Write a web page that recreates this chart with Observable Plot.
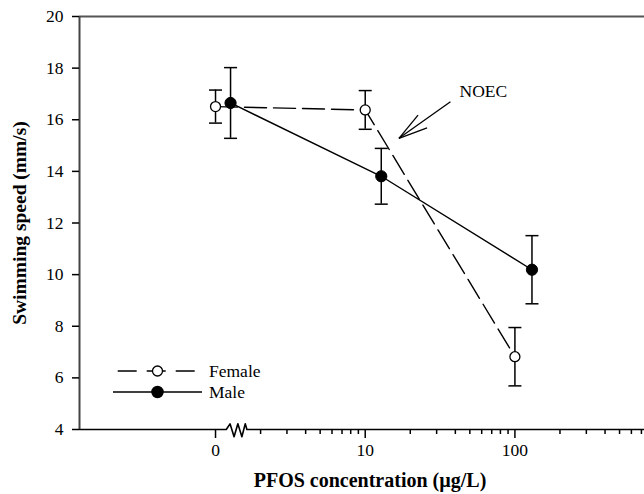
<!DOCTYPE html>
<html><head><meta charset="utf-8">
<script src="https://cdn.jsdelivr.net/npm/d3@7"></script>
<script src="https://cdn.jsdelivr.net/npm/@observablehq/plot@0.6"></script>
<style>body{margin:0;background:#fff}#chart{position:relative;width:644px;height:494px}</style>
</head><body><div id="chart"></div>
<script>
// ---- data ----
const femaleX = [1, 10, 100];          // plotted positions ("0" sits at the 1 position of the log axis)
const femaleMean = [16.51, 16.38, 6.82];
const femaleErr = [0.64, 0.75, 1.13];
const maleX = [1.26, 12.8, 130];
const maleMean = [16.65, 13.81, 10.19];
const maleErr = [1.37, 1.08, 1.32];
const majorTicks = [1, 10, 100];
const majorLabels = ["0", "10", "100"];
const minorTicks = [2,3,4,5,6,7,8,9,20,30,40,50,60,70,80,90,200,300,400,500,600,700];
const yTicks = [4,6,8,10,12,14,16,18,20];
const seriesNames = ["Female", "Male"];
const xTitle = "PFOS concentration (µg/L)";
const yTitle = "Swimming speed (mm/s)";
const noecLabel = "NOEC";
const noecTip = [16.8, 15.28];
const noecTail = [37.1, 16.7];
const noecText = [42.7, 17.1];
// axis break (zigzag) on the x axis
const breakX = [1.18, 1.25, 1.33, 1.41, 1.5, 1.58, 1.62];
const breakY = [4, 4.22, 3.72, 4.22, 3.72, 4.22, 4];

const xDomain = [0.1234, 734];
const yDomain = [4, 20];
const W = 644, H = 494, mL = 79, mR = 0, mT = 16, mB = 65;

const rows = [];
femaleX.forEach((x, i) => rows.push({sex: "Female", x, m: femaleMean[i], e: femaleErr[i]}));
maleX.forEach((x, i) => rows.push({sex: "Male", x, m: maleMean[i], e: maleErr[i]}));
const female = rows.filter(d => d.sex === "Female");
const male = rows.filter(d => d.sex === "Male");
const caps = rows.flatMap(d => [{x: d.x, y: d.m + d.e}, {x: d.x, y: d.m - d.e}]);
const axisPts = [{x: xDomain[0], y: 4}, ...breakX.map((x, i) => ({x, y: breakY[i]})), {x: xDomain[1], y: 4}];

const capSymbol = {draw(ctx, size) { const r = Math.sqrt(size / Math.PI); ctx.moveTo(-r, 0); ctx.lineTo(r, 0); }};

// scales used to build the open arrowhead of the annotation
const sx = Plot.scale({x: {type: "log", domain: xDomain, range: [mL, W - mR]}});
const sy = Plot.scale({y: {domain: yDomain, range: [H - mB, mT]}});
const tpx = sx.apply(noecTip[0]), tpy = sy.apply(noecTip[1]);
const tlx = sx.apply(noecTail[0]), tly = sy.apply(noecTail[1]);
const ang = Math.atan2(tly - tpy, tlx - tpx);
const barbs = [-1, 1].map(s => {
  const a = ang + s * 15 * Math.PI / 180;
  return {x1: noecTip[0], y1: noecTip[1], x2: sx.invert(tpx + 30 * Math.cos(a)), y2: sy.invert(tpy + 30 * Math.sin(a))};
});
const arrowLinks = [{x1: noecTail[0], y1: noecTail[1], x2: noecTip[0], y2: noecTip[1]}, ...barbs];

const font = "'Liberation Serif', 'Times New Roman', serif";
const chart = Plot.plot({
  width: W, height: H, marginLeft: mL, marginRight: mR, marginTop: mT, marginBottom: mB,
  style: {fontFamily: font, fontSize: "17px", color: "#000", background: "#fff"},
  x: {type: "log", domain: xDomain},
  y: {domain: yDomain},
  marks: [
    Plot.ruleY([20], {stroke: "#555", strokeWidth: 2}),
    Plot.ruleX([xDomain[0]], {stroke: "#444", strokeWidth: 2}),
    Plot.line(axisPts, {x: "x", y: "y", stroke: "#000", strokeWidth: 1.6, curve: "linear"}),
    Plot.axisX({ticks: minorTicks, tickSize: 5, tickFormat: () => "", strokeWidth: 1.5, label: null}),
    Plot.axisX({ticks: majorTicks, tickSize: 9, tickPadding: 5, strokeWidth: 1.5,
      tickFormat: d => majorLabels[majorTicks.indexOf(d)], fontSize: 17.5, label: null}),
    Plot.axisY({ticks: yTicks, tickSize: 7, tickPadding: 9, strokeWidth: 1.5, fontSize: 17.5, label: null}),
    Plot.text([yTitle], {frameAnchor: "left", text: d => d, rotate: -90, dx: -60, textAnchor: "middle",
      lineAnchor: "middle", fontWeight: "bold", fontSize: 19.5}),
    Plot.text([xTitle], {frameAnchor: "bottom", text: d => d, dx: 8, dy: 51, textAnchor: "middle",
      lineAnchor: "middle", fontWeight: "bold", fontSize: 20}),
    // error bars
    Plot.ruleX(rows, {x: "x", y1: d => d.m - d.e, y2: d => d.m + d.e, stroke: "#000", strokeWidth: 1.5}),
    Plot.dot(caps, {x: "x", y: "y", symbol: capSymbol, r: 6.5, fill: "none", stroke: "#000", strokeWidth: 1.5}),
    // lines
    Plot.line(female, {x: "x", y: "m", stroke: "#000", strokeWidth: 1.4, strokeDasharray: "22,7"}),
    Plot.line(male, {x: "x", y: "m", stroke: "#000", strokeWidth: 1.4}),
    // points
    Plot.dot(female, {x: "x", y: "m", r: 5, fill: "#fff", stroke: "#000", strokeWidth: 1.3}),
    Plot.dot(male, {x: "x", y: "m", r: 5.6, fill: "#000", stroke: "#000", strokeWidth: 1}),
    // NOEC annotation
    Plot.link(arrowLinks, {x1: "x1", y1: "y1", x2: "x2", y2: "y2", stroke: "#000", strokeWidth: 1.3}),
    Plot.text([noecLabel], {x: noecText[0], y: noecText[1], text: d => d, textAnchor: "start",
      lineAnchor: "middle", fontSize: 17.5})
  ]
});
document.getElementById("chart").appendChild(chart);

// legend (inside the plot, lower left)
const svg = d3.select(chart);
const lg = svg.append("g").attr("font-family", font).attr("font-size", 17.5).attr("text-anchor", "start");
const legendRows = [
  {name: seriesNames[0], y: 371, x1: 117.7, x2: 197.7, dash: "19,10", fill: "#fff", r: 5},
  {name: seriesNames[1], y: 392, x1: 113, x2: 202, dash: null, fill: "#000", r: 5.6}
];
legendRows.forEach(d => {
  lg.append("line").attr("x1", d.x1).attr("x2", d.x2).attr("y1", d.y).attr("y2", d.y)
    .attr("stroke", "#000").attr("stroke-width", 1.4).attr("stroke-dasharray", d.dash);
  lg.append("circle").attr("cx", 157.5).attr("cy", d.y).attr("r", d.r)
    .attr("fill", d.fill).attr("stroke", "#000").attr("stroke-width", 1.3);
  lg.append("text").attr("x", 209).attr("y", d.y).attr("dy", "0.35em").attr("text-anchor", "start").text(d.name);
});
</script>
</body></html>
